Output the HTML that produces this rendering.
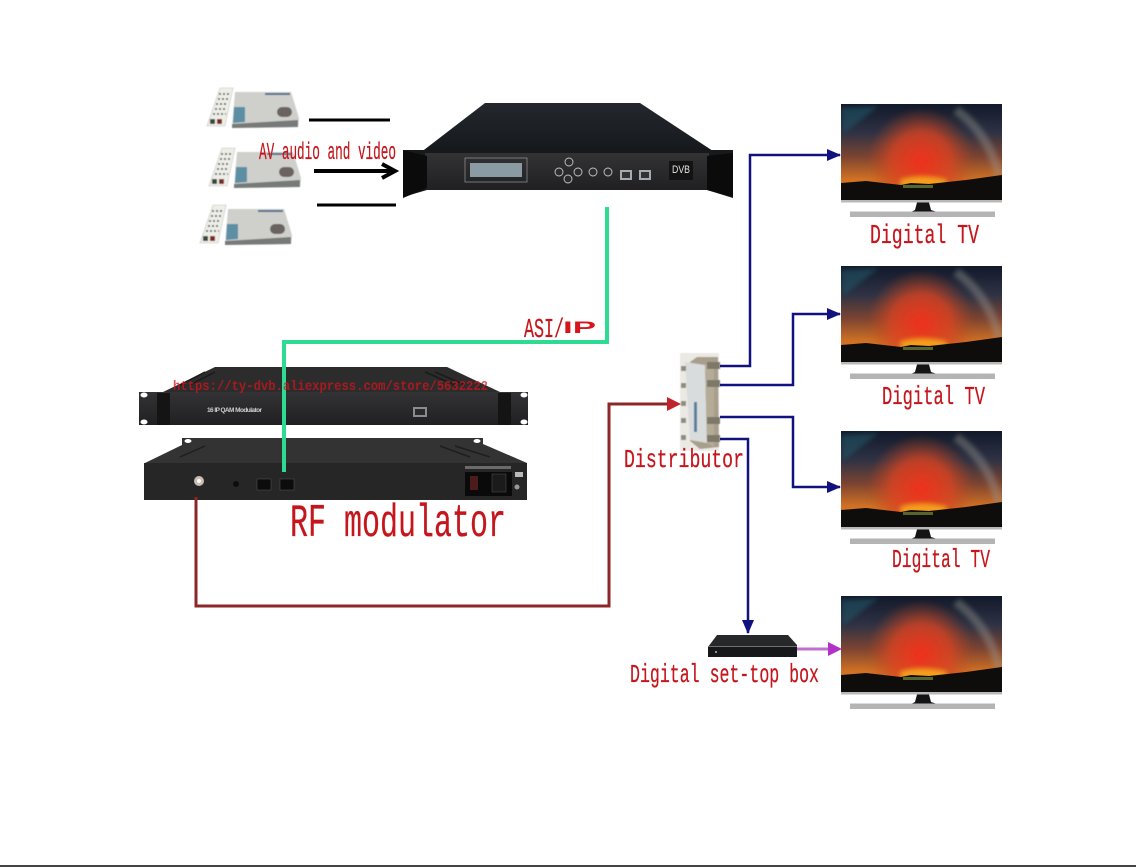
<!DOCTYPE html>
<html><head><meta charset="utf-8"><style>
html,body{margin:0;padding:0;background:#fff}
svg{display:block}
text{font-family:"Liberation Mono","Noto Serif CJK SC",monospace;fill:#c4161c}
</style></head><body>
<svg width="1136" height="867" viewBox="0 0 1136 867" xmlns="http://www.w3.org/2000/svg">
<defs>
<linearGradient id="skyB" x1="0" y1="0" x2="0" y2="1">
<stop offset="0" stop-color="#11192a"/><stop offset=".3" stop-color="#2e3244"/><stop offset=".55" stop-color="#7c4432"/><stop offset=".78" stop-color="#cf7024"/><stop offset="1" stop-color="#e08a20"/>
</linearGradient>
<radialGradient id="glow" gradientUnits="userSpaceOnUse" cx="80" cy="58" r="54">
<stop offset="0" stop-color="#f0301a"/><stop offset=".55" stop-color="#dc4420" stop-opacity=".8"/><stop offset="1" stop-color="#b84420" stop-opacity="0"/>
</radialGradient>
<filter id="b3" x="-10%" y="-10%" width="120%" height="120%"><feGaussianBlur stdDeviation="2.500"/></filter>
<filter id="b1"><feGaussianBlur stdDeviation=".45"/></filter>
<clipPath id="tvc"><rect width="161" height="96"/></clipPath>
<linearGradient id="top" x1="0" y1="0" x2="0" y2="1"><stop offset="0" stop-color="#24282e"/><stop offset="1" stop-color="#15181b"/></linearGradient>
<linearGradient id="panel" x1="0" y1="0" x2="0" y2="1"><stop offset="0" stop-color="#333335"/><stop offset="1" stop-color="#202022"/></linearGradient>
<symbol id="tv" width="170" height="120" viewBox="0 0 170 120" overflow="visible">
<g clip-path="url(#tvc)">
<rect x="0" y="0" width="161" height="96" fill="url(#skyB)"/>
<g filter="url(#b3)">
<rect x="0" y="0" width="161" height="96" fill="url(#glow)"/>
<path d="M115 6Q148 30 158 72" stroke="#9b9a90" stroke-width="9" fill="none" opacity=".4"/>
<path d="M0 4L38 2L2 30Z" fill="#1d5a6a" opacity=".55"/>
<path d="M60 76Q80 70 105 76V82H60Z" fill="#fbb81e" opacity=".8"/>
</g>
<path d="M0 79L25 77L60 81L70 79L88 80L125 76L161 71V96H0Z" fill="#0e0d0c"/>
<rect x="62" y="81" width="30" height="3" fill="#6a7a3a" opacity=".8"/>
</g>
<rect x="0" y="96" width="161" height="2.500" fill="#b9b9b9"/>
<path d="M76 98.500H88L90 106L96 108H70L74 106Z" fill="#141414"/>
<rect x="9" y="107.500" width="145" height="5.500" fill="#b4b4b4"/>
</symbol>
<symbol id="box" width="100" height="50" viewBox="0 0 100 50" overflow="visible">
<g filter="url(#b1)">
<path d="M30 6L86 6L94 32L93 41L27 42Z" fill="#cfd0cc"/>
<path d="M27 38L93 34V41L27 42Z" fill="#777a78"/>
<rect x="72" y="21" width="15" height="10" rx="5" fill="#6a6460"/>
<path d="M29 21L40 21L40 36L28 37Z" fill="#5d8fa4"/>
<path d="M60 7L85 7L85 9L60 9Z" fill="#4f6f8c"/>
<path d="M15 2L28 2L20 40L2 40Z" fill="#eeeee8" stroke="#c4c4be" stroke-width=".6"/>
<path d="M14 8H25M13 13H24M11 18H23M10 23H22M8 28H21" stroke="#5a5c5e" stroke-width="1.800" stroke-dasharray="2 2"/>
<rect x="5" y="33" width="5" height="5" fill="#3a4a40"/><rect x="12" y="33" width="5" height="5" fill="#7c2a22"/>
</g>
</symbol>
<marker id="navy" markerUnits="userSpaceOnUse" markerWidth="14" markerHeight="14" refX="13" refY="6" orient="auto"><path d="M0 0L14 6L0 12Z" fill="#12127f"/></marker>
</defs>
<rect width="1136" height="867" fill="#fff"/>

<!-- STBs -->
<use href="#box" x="205" y="86"/>
<use href="#box" x="207" y="146"/>
<use href="#box" x="198" y="203"/>

<!-- Encoder -->
<path d="M485 103H640L716 153H420Z" fill="url(#top)"/>
<path d="M403 150H733V198L707 190H427L403 197Z" fill="#17191b"/>
<path d="M425 153H709V190H425Z" fill="url(#panel)"/>
<path d="M403 150L427 156V188L403 198Z" fill="#0b0b0c"/>
<path d="M733 153L707 156V190L733 197Z" fill="#0b0b0c"/>
<rect x="465" y="158" width="62" height="24" fill="none" stroke="#8a8a8a" stroke-width=".8"/>
<rect x="470" y="163" width="52" height="14" fill="#8b9ba4"/>
<g fill="#2c2c2e" stroke="#c4c4c4" stroke-width=".9">
<circle cx="569" cy="162" r="4"/><circle cx="559" cy="172" r="4"/><circle cx="578" cy="172" r="4"/><circle cx="568" cy="179" r="4"/><circle cx="593" cy="172" r="4"/><circle cx="608" cy="172" r="4"/>
</g>
<rect x="620" y="170" width="12" height="10" fill="#a5abae"/><rect x="622" y="172" width="8" height="6" fill="#333"/>
<rect x="639" y="170" width="12" height="10" fill="#a5abae"/><rect x="641" y="172" width="8" height="6" fill="#333"/>
<rect x="669" y="161" width="24" height="19" fill="#131313"/>
<text x="672" y="173" font-size="11" textLength="18" lengthAdjust="spacingAndGlyphs" style="font-family:'Liberation Sans',sans-serif;fill:#e4e4e4">DVB</text>

<!-- Modulator front -->
<path d="M215 367H447L500 392H163Z" fill="#2c2c2d"/>
<g stroke="#1a1a1a" stroke-width="1.500"><path d="M205 372L180 385M215 372L190 385M425 372L455 385M435 372L465 385"/></g>
<path d="M139 392H528V425H139Z" fill="url(#panel)"/>
<rect x="157" y="393" width="13" height="32" fill="#141414"/><rect x="498" y="393" width="13" height="32" fill="#141414"/>
<ellipse cx="144" cy="395" rx="3.500" ry="2.500" fill="#fff"/><ellipse cx="144" cy="422" rx="3.500" ry="2.500" fill="#fff"/>
<ellipse cx="524" cy="395" rx="3.500" ry="2.500" fill="#fff"/><ellipse cx="524" cy="422" rx="3.500" ry="2.500" fill="#fff"/>
<text x="207" y="412" font-size="6.500" style="font-family:'Liberation Sans',sans-serif;font-weight:bold;fill:#cfcfcf" textLength="55">16 IP QAM Modulator</text>
<rect x="413" y="407" width="14" height="10" fill="#8c8c8c"/><rect x="415" y="409" width="10" height="6" fill="#2a2a2a"/>

<!-- Modulator rear -->
<path d="M182 438H483V444L527 463H145L182 445Z" fill="#333334"/>
<g stroke="#1e1e1e" stroke-width="1.500"><path d="M205 446L180 457M440 446L470 457M455 446L490 457"/></g>
<rect x="144" y="463" width="383" height="37" fill="#262627"/>
<ellipse cx="188" cy="441" rx="3.500" ry="2" fill="#fff"/><ellipse cx="477" cy="441" rx="3.500" ry="2" fill="#fff"/>
<circle cx="199" cy="481" r="5" fill="#c8bdb0"/><circle cx="199" cy="481" r="2" fill="#fff"/>
<rect x="257" y="479" width="14" height="11" fill="#0c0c0c" stroke="#555" stroke-width=".5"/>
<rect x="280" y="479" width="14" height="11" fill="#0c0c0c" stroke="#555" stroke-width=".5"/>
<circle cx="236" cy="484" r="3" fill="#0d0d0d"/>
<rect x="465" y="472" width="47" height="24" fill="#0a0a0a"/>
<rect x="470" y="476" width="8" height="14" fill="#4c1c1c"/><rect x="492" y="474" width="14" height="18" fill="#1b1b1b" stroke="#555" stroke-width=".5"/>
<rect x="465" y="466" width="46" height="3" fill="#888" opacity=".7"/>
<rect x="515" y="472" width="8" height="5" fill="#bbb"/><circle cx="517" cy="487" r="2.500" fill="#999"/>

<!-- Distributor -->
<g filter="url(#b1)">
<rect x="680" y="353" width="39" height="98" fill="#ebe9e4"/>
<path d="M697 357H718L719 447L700 449L690 441V362Z" fill="#a89e8c"/>
<path d="M685 362L705 365L707 443L690 440Z" fill="#d9dcdc"/>
<path d="M705 365L714 362V447L707 443Z" fill="#b5ac98"/>
<g fill="#8f8c7e">
<rect x="681" y="366" width="5" height="5"/><rect x="681" y="383" width="5" height="5"/><rect x="681" y="401" width="5" height="5"/><rect x="681" y="418" width="5" height="5"/><rect x="681" y="435" width="5" height="5"/>
</g>
<g fill="#7d7867">
<rect x="707" y="362" width="13" height="7"/><rect x="707" y="380" width="13" height="7"/><rect x="707" y="417" width="13" height="7"/><rect x="707" y="435" width="13" height="7"/>
</g>
<rect x="694" y="402" width="3" height="30" fill="#5a7f9c"/>
</g>

<!-- Connectors -->
<path d="M607 207V342H284V472" fill="none" stroke="#2edb93" stroke-width="4"/>
<path d="M196 497V606H609V404H669" fill="none" stroke="#8d2626" stroke-width="3"/>
<path d="M667 397L681 404L667 411Z" fill="#c0252c"/>
<g fill="none" stroke="#12127f" stroke-width="2.500">
<path d="M720 366H750V155H840" marker-end="url(#navy)"/>
<path d="M720 385H793V314H840" marker-end="url(#navy)"/>
<path d="M720 417H793V487H840" marker-end="url(#navy)"/>
<path d="M720 439H748V633" marker-end="url(#navy)"/>
</g>
<path d="M796 649H830" stroke="#c070d0" stroke-width="3"/>
<path d="M828 642L842 649L828 656Z" fill="#b232c8"/>

<!-- AV lines -->
<path d="M309 120H390M317 205H396" stroke="#000" stroke-width="3" fill="none"/>
<path d="M314 171H392" stroke="#000" stroke-width="4" fill="none"/>
<path d="M382 164L395 171L382 178" fill="none" stroke="#000" stroke-width="4"/>

<!-- TVs -->
<use href="#tv" x="841" y="104"/>
<use href="#tv" x="841" y="266"/>
<use href="#tv" x="841" y="431"/>
<use href="#tv" x="841" y="596"/>

<!-- Set-top box -->
<path d="M717 635H788L797 645V657H708V647Z" fill="#27282a"/>
<rect x="708" y="646" width="89" height="1" fill="#707070"/>
<rect x="708" y="647" width="89" height="10" fill="#17181a"/>
<circle cx="716" cy="652" r="1" fill="#bbb"/>

<!-- Labels -->
<g stroke="#c4161c" stroke-width=".25">
<text x="259" y="159" font-size="24" textLength="137" lengthAdjust="spacingAndGlyphs">AV audio and video</text>
<text x="524" y="337" font-size="27" textLength="40" lengthAdjust="spacingAndGlyphs">ASI/</text>
<text x="290" y="536" font-size="46" textLength="216" lengthAdjust="spacingAndGlyphs">RF modulator</text>
<text x="624" y="467" font-size="26" textLength="120" lengthAdjust="spacingAndGlyphs">Distributor</text>
<text x="870" y="243" font-size="27" textLength="109" lengthAdjust="spacingAndGlyphs">Digital TV</text>
<text x="882" y="404" font-size="26" textLength="103" lengthAdjust="spacingAndGlyphs">Digital TV</text>
<text x="892" y="567" font-size="26" textLength="98" lengthAdjust="spacingAndGlyphs">Digital TV</text>
<text x="630" y="682" font-size="26" textLength="189" lengthAdjust="spacingAndGlyphs">Digital set-top box</text>
</g>
<text x="563" y="333" font-size="17" font-weight="bold" textLength="33" lengthAdjust="spacingAndGlyphs" style="font-family:'Liberation Sans',sans-serif;fill:#d8141c">IP</text>
<text x="173" y="390" font-size="14" font-weight="bold" textLength="315" lengthAdjust="spacingAndGlyphs" opacity=".72" style="fill:#d8141c">https://ty-dvb.aliexpress.com/store/5632222</text>

<rect x="0" y="865" width="1136" height="2" fill="#444"/>
</svg>
</body></html>
